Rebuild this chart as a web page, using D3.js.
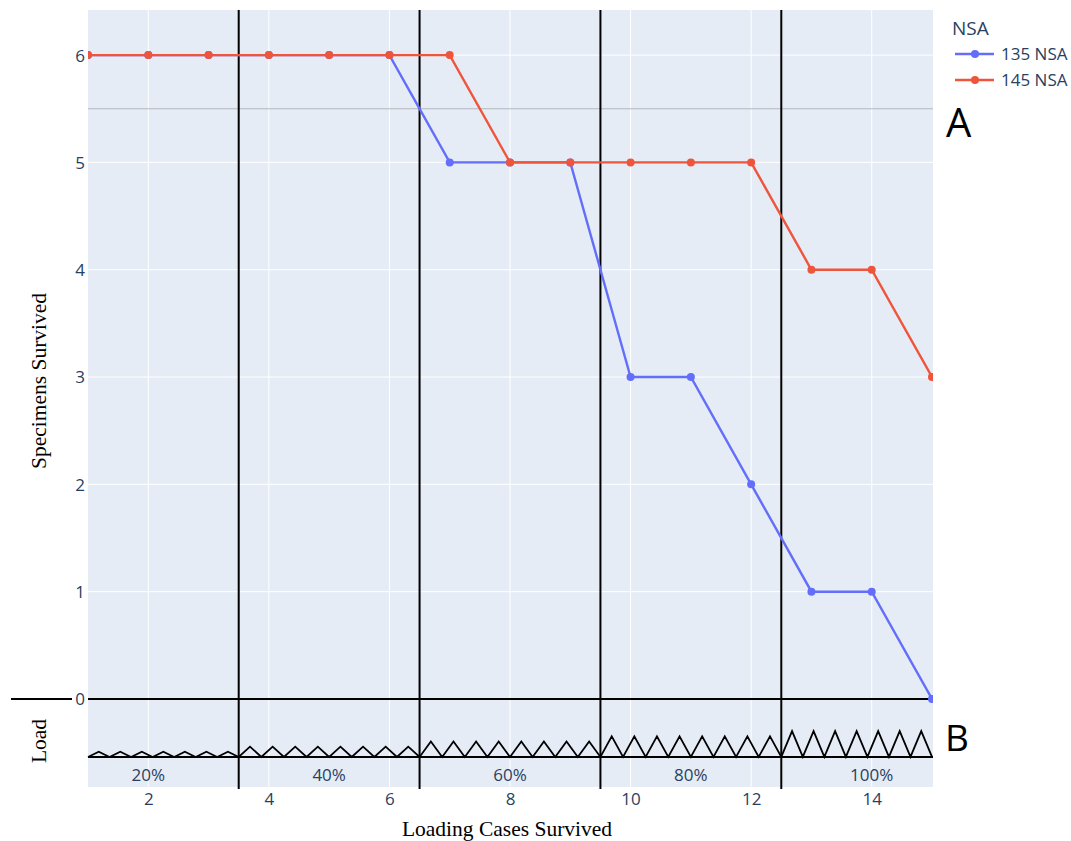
<!DOCTYPE html>
<html>
<head>
<meta charset="utf-8">
<script src="https://cdn.jsdelivr.net/npm/d3@7/dist/d3.min.js"></script>
<style>
  body { margin: 0; background: #fff; }
</style>
</head>
<body>
<div id="chart"></div>
<script>
// loading cases 1..15
let cases = [1, 2, 3, 4, 5, 6, 7, 8, 9, 10, 11, 12, 13, 14, 15];
let survived135 = [6, 6, 6, 6, 6, 6, 5, 5, 5, 3, 3, 2, 1, 1, 0];
let survived145 = [6, 6, 6, 6, 6, 6, 6, 5, 5, 5, 5, 5, 4, 4, 3];
let seriesNames = ['135 NSA', '145 NSA'];
let seriesColors = ['#636efa', '#EF553B'];

// load blocks (schematic in panel B)
let blockEdges = [1, 3.5, 6.5, 9.5, 12.5, 15];
let blockLoads = [20, 40, 60, 80, 100];
let blockCycles = [7, 8, 8, 8, 7];
let blockLabelX = [2, 5, 8, 11, 14];
let blockLabels = ['20%', '40%', '60%', '80%', '100%'];

let xTicks = [2, 4, 6, 8, 10, 12, 14];
let yTicks = [0, 1, 2, 3, 4, 5, 6];

let width = 1071, height = 841;
let pLeft = 88, pRight = 932, pTop = 10, pBottom = 787;
let tickColor = '#2a3f5f', bgColor = '#E5ECF6';
let sans = '"Open Sans", "Noto Sans", sans-serif',
    serif = '"Liberation Serif", "DejaVu Serif", serif';

let x = d3.scaleLinear().domain([1, 15]).range([pLeft, pRight]);
let y = d3.scaleLinear().domain([-0.82, 6.42]).range([pBottom, pTop]);
// load amplitude lives under y=0
let loadY = d3.scaleLinear().domain([0, 100]).range([y(-0.54), y(-0.3)]);

let svg = d3.select('#chart').append('svg')
    .attr('width', width)
    .attr('height', height)
    .style('font-family', sans);

svg.append('defs').append('clipPath').attr('id', 'plotclip')
  .append('rect')
    .attr('x', pLeft).attr('y', pTop)
    .attr('width', pRight - pLeft + 1).attr('height', pBottom - pTop);

svg.append('rect')
    .attr('x', pLeft).attr('y', pTop)
    .attr('width', pRight - pLeft + 1).attr('height', pBottom - pTop)
    .attr('fill', bgColor);

// grid
svg.append('g').selectAll('line')
    .data(xTicks).enter().append('line')
    .attr('x1', d => x(d)).attr('x2', d => x(d))
    .attr('y1', pTop).attr('y2', pBottom)
    .attr('stroke', '#fff').attr('stroke-width', 1);
svg.append('g').selectAll('line')
    .data(yTicks.filter(d => d > 0)).enter().append('line')
    .attr('x1', pLeft).attr('x2', pRight + 1)
    .attr('y1', d => y(d)).attr('y2', d => y(d))
    .attr('stroke', '#fff').attr('stroke-width', 1);

// threshold line at 5.5
svg.append('line')
    .attr('x1', pLeft).attr('x2', pRight + 1)
    .attr('y1', y(5.5)).attr('y2', y(5.5))
    .attr('stroke', '#b4b8bd').attr('stroke-width', 1.2);

// axes
let xAxis = d3.axisBottom(x).tickValues(xTicks).tickSize(0).tickPadding(0);
let yAxis = d3.axisLeft(y).tickValues(yTicks).tickSize(0).tickPadding(0);

let gx = svg.append('g').attr('transform', 'translate(0,' + pBottom + ')').call(xAxis);
gx.select('.domain').remove();
gx.selectAll('text')
    .attr('dy', null).attr('y', 18)
    .attr('fill', tickColor)
    .style('font-size', '17px').style('font-family', sans);

let gy = svg.append('g').attr('transform', 'translate(' + (pLeft - 3) + ',0)').call(yAxis);
gy.select('.domain').remove();
gy.selectAll('text')
    .attr('dy', '0.35em')
    .attr('fill', tickColor)
    .style('font-size', '17px').style('font-family', sans);

// load schematic
let zig = [];
blockLoads.forEach(function(load, i) {
  let b0 = blockEdges[i], b1 = blockEdges[i + 1], n = blockCycles[i];
  let w = (b1 - b0) / n;
  for (let k = 0; k < n; k++) {
    zig.push([b0 + k * w, 0]);
    zig.push([b0 + (k + 0.5) * w, load]);
  }
  if (i == blockLoads.length - 1) zig.push([b1, 0]);
});

svg.append('line')
    .attr('x1', pLeft).attr('x2', pRight + 1)
    .attr('y1', loadY(0)).attr('y2', loadY(0))
    .attr('stroke', '#000').attr('stroke-width', 2);

svg.append('path')
    .datum(zig)
    .attr('d', d3.line().x(d => x(d[0])).y(d => loadY(d[1])))
    .attr('fill', 'none').attr('stroke', '#000').attr('stroke-width', 1.8)
    .attr('stroke-linejoin', 'miter');

svg.append('g').selectAll('text')
    .data(blockLabels).enter().append('text')
    .attr('x', (d, i) => x(blockLabelX[i]))
    .attr('y', 781)
    .attr('text-anchor', 'middle')
    .attr('fill', tickColor)
    .style('font-size', '17px')
    .text(d => d);

// zero line + separator on the left
svg.append('line')
    .attr('x1', pLeft).attr('x2', pRight + 1)
    .attr('y1', y(0)).attr('y2', y(0))
    .attr('stroke', '#000').attr('stroke-width', 2);
svg.append('line')
    .attr('x1', 11).attr('x2', 72)
    .attr('y1', y(0)).attr('y2', y(0))
    .attr('stroke', '#000').attr('stroke-width', 2);

// block dividers
svg.append('g').selectAll('line')
    .data(blockEdges.slice(1, -1)).enter().append('line')
    .attr('x1', d => x(d)).attr('x2', d => x(d))
    .attr('y1', pTop).attr('y2', pBottom + 2)
    .attr('stroke', '#000').attr('stroke-width', 2);

// series
let series = [survived135, survived145];
let plot = svg.append('g').attr('clip-path', 'url(#plotclip)');
let line = d3.line().x((d, i) => x(cases[i])).y(d => y(d));
series.forEach(function(vals, s) {
  plot.append('path')
      .datum(vals)
      .attr('d', line)
      .attr('fill', 'none')
      .attr('stroke', seriesColors[s]).attr('stroke-width', 2.4);
  plot.append('g').selectAll('circle')
      .data(vals).enter().append('circle')
      .attr('cx', (d, i) => x(cases[i]))
      .attr('cy', d => y(d))
      .attr('r', 4)
      .attr('fill', seriesColors[s]);
});

// axis titles
svg.append('text')
    .attr('x', 507).attr('y', 836)
    .attr('text-anchor', 'middle')
    .style('font-family', serif).style('font-size', '21.5px')
    .attr('fill', '#000')
    .text('Loading Cases Survived');
svg.append('text')
    .attr('transform', 'translate(46,381) rotate(-90)')
    .attr('text-anchor', 'middle')
    .style('font-family', serif).style('font-size', '21.5px')
    .attr('fill', '#000')
    .text('Specimens Survived');
svg.append('text')
    .attr('transform', 'translate(46,741) rotate(-90)')
    .attr('text-anchor', 'middle')
    .style('font-family', serif).style('font-size', '21.5px')
    .attr('fill', '#000')
    .text('Load');

// legend
let legend = svg.append('g').attr('transform', 'translate(952,0)');
legend.append('text')
    .attr('x', 0).attr('y', 35)
    .attr('fill', tickColor).style('font-size', '19px')
    .text('NSA');
seriesNames.forEach(function(name, i) {
  let ly = 54 + i * 26;
  legend.append('line')
      .attr('x1', 3).attr('x2', 42).attr('y1', ly).attr('y2', ly)
      .attr('stroke', seriesColors[i]).attr('stroke-width', 2.4);
  legend.append('circle')
      .attr('cx', 23).attr('cy', ly).attr('r', 4)
      .attr('fill', seriesColors[i]);
  legend.append('text')
      .attr('x', 49).attr('y', ly + 6)
      .attr('fill', tickColor).style('font-size', '17px')
      .text(name);
});

// panel letters
svg.append('text')
    .attr('x', 946).attr('y', 137)
    .style('font-size', '40px').attr('fill', '#000')
    .text('A');
svg.append('text')
    .attr('x', 945).attr('y', 751)
    .style('font-size', '37px').attr('fill', '#000')
    .text('B');
</script>
</body>
</html>
